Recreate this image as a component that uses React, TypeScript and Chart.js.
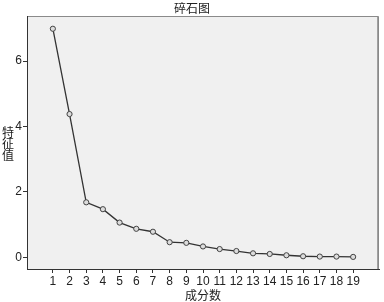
import React, { useEffect, useRef } from "react";
import { Chart, registerables } from "chart.js";

Chart.register(...registerables);

const components = [1, 2, 3, 4, 5, 6, 7, 8, 9, 10, 11, 12, 13, 14, 15, 16, 17, 18, 19];
const eigenvalues = [6.99, 4.38, 1.68, 1.47, 1.06, 0.87, 0.78, 0.46, 0.44, 0.33, 0.25, 0.19, 0.12, 0.1, 0.06, 0.03, 0.02, 0.02, 0.01];
const yTicks = [0, 2, 4, 6];
const chartTitle = "碎石图";
const xTitle = "成分数";
const yTitle = "特征值";

const CJK = '"Noto Sans CJK SC", "Noto Sans", sans-serif';
const NUM = '"Liberation Sans", Arial, sans-serif';

export default function App() {
  const ref = useRef<HTMLCanvasElement | null>(null);

  useEffect(() => {
    document.body.style.margin = "0";
    const canvas = ref.current;
    if (!canvas) return;

    const decor = {
      id: "decor",
      beforeDraw(chart: any) {
        const { ctx, chartArea: a } = chart;
        ctx.save();
        ctx.fillStyle = "#f0f0f0";
        ctx.fillRect(a.left, a.top, a.right - a.left, a.bottom - a.top);
        ctx.strokeStyle = "#8a8a8a";
        ctx.lineWidth = 1;
        ctx.beginPath();
        ctx.moveTo(a.left, a.top + 0.5);
        ctx.lineTo(a.right - 0.5, a.top + 0.5);
        ctx.lineTo(a.right - 0.5, a.bottom);
        ctx.stroke();
        ctx.strokeStyle = "#a0a0a0";
        ctx.beginPath();
        ctx.moveTo(a.right - 1.5, a.top + 1);
        ctx.lineTo(a.right - 1.5, a.bottom);
        ctx.stroke();
        ctx.restore();
      },
      afterDraw(chart: any) {
        const { ctx, chartArea: a } = chart;
        ctx.save();
        ctx.fillStyle = "#222";
        ctx.textAlign = "center";
        ctx.textBaseline = "middle";
        ctx.font = `12px ${CJK}`;
        ctx.fillText(chartTitle, 192, 8);
        ctx.fillText(xTitle, (a.left + a.right) / 2, 295);
        const chars = Array.from(yTitle);
        chars.forEach((c, i) => ctx.fillText(c, 8, 132 + i * 11.5));
        ctx.restore();
      },
    };

    const chart = new Chart(canvas, {
      type: "line",
      data: {
        datasets: [
          {
            data: components.map((c, i) => ({ x: c, y: eigenvalues[i] })),
            borderColor: "#333333",
            borderWidth: 1.3,
            backgroundColor: "rgba(240,240,240,0)",
            pointRadius: 2.6,
            pointBorderWidth: 1,
            pointBorderColor: "#444444",
            pointBackgroundColor: "#dcdcdc",
            tension: 0,
          },
        ],
      },
      options: {
        animation: false,
        responsive: false,
        maintainAspectRatio: false,
        layout: { padding: { left: 0, right: 2, top: 16, bottom: 0 } },
        plugins: { legend: { display: false }, tooltip: { enabled: false }, title: { display: false } },
        scales: {
          x: {
            type: "linear",
            min: -0.55,
            max: 20.55,
            afterBuildTicks: (s: any) => {
              s.ticks = components.map((v) => ({ value: v }));
            },
            afterFit: (s: any) => {
              s.height = 33;
            },
            ticks: {
              autoSkip: false,
              maxRotation: 0,
              padding: 1,
              color: "#222",
              font: { family: NUM, size: 12 },
              callback: (v: any) => String(v),
            },
            grid: { drawOnChartArea: false, drawTicks: true, tickLength: 4, color: "#333" },
            border: { display: true, color: "#333", width: 1 },
          },
          y: {
            type: "linear",
            min: -0.36,
            max: 7.38,
            afterBuildTicks: (s: any) => {
              s.ticks = yTicks.map((v) => ({ value: v }));
            },
            afterFit: (s: any) => {
              s.width = 27;
            },
            ticks: {
              padding: 1,
              color: "#222",
              font: { family: NUM, size: 12 },
              callback: (v: any) => String(v),
            },
            grid: { drawOnChartArea: false, drawTicks: true, tickLength: 4, color: "#333" },
            border: { display: true, color: "#333", width: 1 },
          },
        },
      },
      plugins: [decor],
    });
    return () => chart.destroy();
  }, []);

  return (
    <div style={{ width: 384, height: 302, background: "#fff" }}>
      <canvas ref={ref} width={384} height={302} style={{ display: "block" }} />
    </div>
  );
}
